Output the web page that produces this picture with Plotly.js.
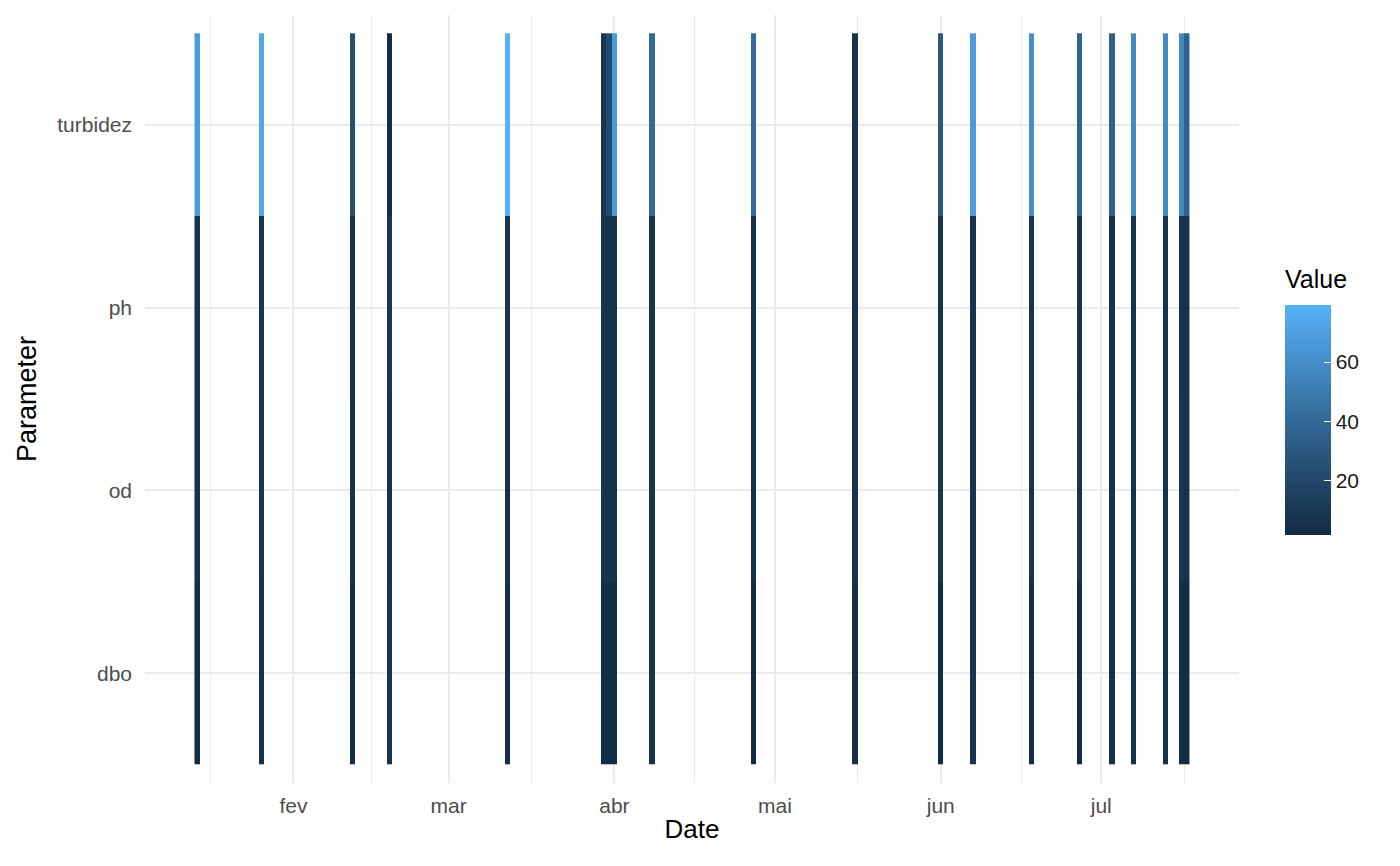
<!DOCTYPE html>
<html><head><meta charset="utf-8">
<script src="https://cdn.plot.ly/plotly-3.0.1.min.js"></script>
<style>html,body{margin:0;padding:0;background:#fff}#chart{width:1400px;height:866px}</style>
</head><body><div id="chart"></div>
<script>
const parameters = ["dbo", "od", "ph", "turbidez"];
const dates = ["2024-01-14","2024-01-26","2024-02-12","2024-02-19","2024-03-12","2024-03-30","2024-03-31","2024-04-01","2024-04-08","2024-04-27","2024-05-16","2024-06-01","2024-06-07","2024-06-18","2024-06-27","2024-07-03","2024-07-07","2024-07-13","2024-07-16","2024-07-17"];
const turbidez = [68, 74, 24, 3, 79.2, 9, 22, 67, 40, 41, 8, 30, 68, 61, 37, 36, 58, 58, 57, 35];
const ph       = [7.2, 7.0, 7.1, 7.6, 7.3, 7.0, 7.2, 7.1, 7.2, 6.8, 7.3, 7.1, 7.2, 7.1, 6.2, 6.6, 6.9, 6.9, 6.6, 6.6];
const od       = [6.0, 7.0, 6.5, 6.3, 6.5, 6.8, 6.8, 7.0, 7.2, 6.5, 8.0, 7.8, 7.2, 8.0, 7.5, 6.6, 7.0, 7.0, 7.4, 6.6];
const dbo      = [2.5, 5.5, 4.0, 7.0, 4.2, 3.5, 3.5, 4.0, 7.0, 2.0, 5.0, 2.2, 7.0, 3.5, 1.8, 5.5, 6.5, 6.5, 2.5, 2.5];
const monthTicks  = ["2024-02-01","2024-03-01","2024-04-01","2024-05-01","2024-06-01","2024-07-01"];
const monthLabels = ["fev","mar","abr","mai","jun","jul"];
const minorTicks  = ["2024-01-16 12:00","2024-02-15 12:00","2024-03-16 12:00","2024-04-16","2024-05-16 12:00","2024-06-16","2024-07-16 12:00"];
const legendTitle = "Value";

const seriesByParam = {dbo: dbo, od: od, ph: ph, turbidez: turbidez};

// daily grid so each tile is one day wide
function iso(d){ return d.toISOString().slice(0,10); }
const start = new Date(dates[0] + "T00:00:00Z");
const end = new Date(dates[dates.length-1] + "T00:00:00Z");
const days = [];
for (let d = new Date(start); d <= end; d.setUTCDate(d.getUTCDate()+1)) days.push(iso(d));
const z = parameters.map(p => {
  const m = {};
  dates.forEach((d,i) => { m[d] = seriesByParam[p][i]; });
  return days.map(d => (d in m) ? m[d] : null);
});

const font = "Liberation Sans, Arial, sans-serif";
const trace = {
  type: "heatmap",
  x: days, y: parameters, z: z,
  colorscale: [[0,"#132B43"],[0.25,"#23496C"],[0.5,"#336A98"],[0.75,"#448DC7"],[1,"#56B1F7"]],
  hoverongaps: false,
  colorbar: {
    thickness: 46, thicknessmode: "pixels",
    len: 230, lenmode: "pixels",
    x: 1.0420, xanchor: "left", xpad: 0,
    y: 0.4727, yanchor: "middle", ypad: 0,
    outlinewidth: 0,
    tickvals: [20, 40, 60],
    ticks: "inside", ticklen: 7, tickcolor: "#fff", tickwidth: 1,
    tickfont: {family: font, size: 21, color: "#1a1a1a"}
  }
};
const layout = {
  width: 1400, height: 866,
  margin: {l: 145, r: 161, t: 15, b: 83},
  paper_bgcolor: "#fff", plot_bgcolor: "#fff",
  font: {family: font},
  xaxis: {
    type: "date",
    range: ["2024-01-04 06:00", "2024-07-26 18:00"],
    tickmode: "array", tickvals: monthTicks, ticktext: monthLabels,
    showgrid: true, gridcolor: "#EBEBEB", gridwidth: 2,
    minor: {tickmode: "array", tickvals: minorTicks, showgrid: true, gridcolor: "#EBEBEB", gridwidth: 1},
    zeroline: false, showline: false, ticks: "",
    ticklabelstandoff: 8,
    tickfont: {family: font, size: 21, color: "#4D4D4D"},
    title: {text: "Date", font: {family: font, size: 26, color: "#000"}, standoff: 3}
  },
  yaxis: {
    type: "category",
    range: [-0.6, 3.6],
    showgrid: true, gridcolor: "#EBEBEB", gridwidth: 2,
    zeroline: false, showline: false, ticks: "",
    ticklabelstandoff: 12,
    tickfont: {family: font, size: 21, color: "#4D4D4D"},
    title: {text: "Parameter", font: {family: font, size: 27, color: "#000"}, standoff: 12}
  },
  annotations: [{
    text: legendTitle, xref: "paper", yref: "paper",
    x: 1.0402, xanchor: "left", y: 0.65625, yanchor: "middle",
    showarrow: false, font: {family: font, size: 25, color: "#000"}
  }]
};
Plotly.newPlot("chart", [trace], layout, {displayModeBar: false, staticPlot: true});
</script></body></html>
